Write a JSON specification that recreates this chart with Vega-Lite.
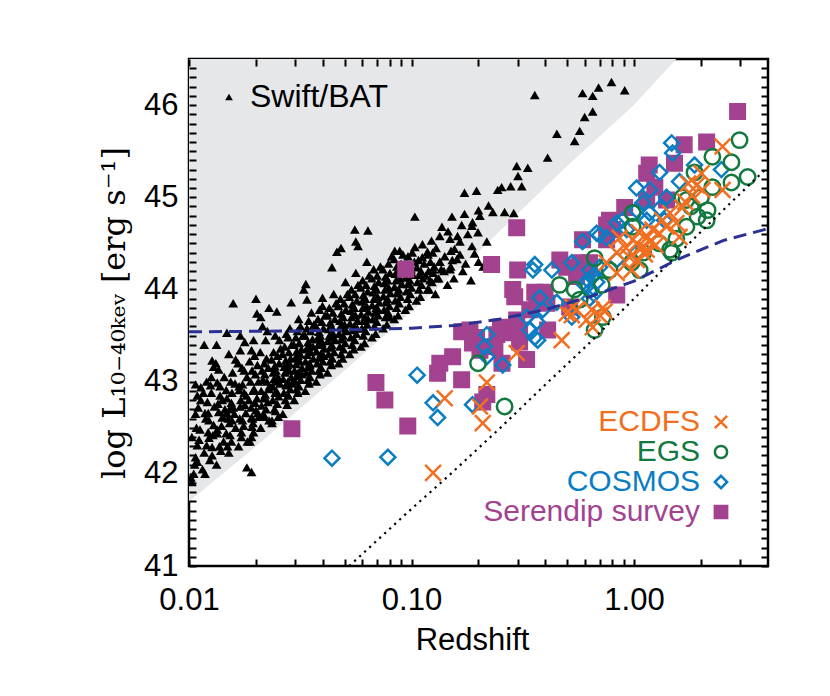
{
  "$schema": "https://vega.github.io/schema/vega-lite/v6.json",
  "width": 579,
  "height": 507,
  "autosize": {"type": "none"},
  "padding": {"left": 189, "top": 59, "right": 62, "bottom": 130},
  "background": "white",
  "config": {
    "view": {"stroke": "#000000", "strokeWidth": 2.5},
    "font": "Liberation Sans"
  },
  "datasets": {
    "bound": [
      {"z": 0.01, "L": 41.70}, {"z": 0.02, "L": 42.30}, {"z": 0.05, "L": 43.12}, {"z": 0.1, "L": 43.76},
      {"z": 0.2, "L": 44.41}, {"z": 0.5, "L": 45.34}, {"z": 1.0, "L": 46.0}, {"z": 1.07, "L": 46.08}, {"z": 1.55, "L": 46.5}
    ],
    "dash": [
      {"z": 0.01, "L": 43.54}, {"z": 0.0316, "L": 43.55}, {"z": 0.1, "L": 43.58}, {"z": 0.158, "L": 43.61},
      {"z": 0.251, "L": 43.68}, {"z": 0.398, "L": 43.78}, {"z": 0.631, "L": 43.92}, {"z": 1.0, "L": 44.09},
      {"z": 1.585, "L": 44.33}, {"z": 2.512, "L": 44.53}, {"z": 4.0, "L": 44.66}
    ],
    "dot": [
      {"z": 0.0525, "L": 41.0}, {"z": 0.1, "L": 41.62}, {"z": 0.1455, "L": 41.97}, {"z": 0.251, "L": 42.5},
      {"z": 0.377, "L": 42.91}, {"z": 0.631, "L": 43.42}, {"z": 1.0, "L": 43.9}, {"z": 1.445, "L": 44.29},
      {"z": 2.254, "L": 44.75}, {"z": 4.0, "L": 45.33}
    ],
    "swift": [
      {"z":0.0103,"L":42.40},{"z":0.0109,"L":42.31},{"z":0.0117,"L":43.40},{"z":0.0133,"L":43.40},{"z":0.0148,"L":43.53},
      {"z":0.0127,"L":43.23},{"z":0.0129,"L":43.16},{"z":0.0136,"L":43.13},{"z":0.0162,"L":43.24},{"z":0.0166,"L":43.20},
      {"z":0.0170,"L":43.34},{"z":0.0191,"L":43.34},{"z":0.0178,"L":43.43},{"z":0.0107,"L":42.97},{"z":0.0113,"L":42.94},
      {"z":0.0126,"L":42.88},{"z":0.0134,"L":42.99},{"z":0.0113,"L":42.80},{"z":0.0147,"L":42.91},{"z":0.0156,"L":42.88},
      {"z":0.0168,"L":42.91},{"z":0.0177,"L":42.88},{"z":0.0141,"L":42.80},{"z":0.0155,"L":42.77},{"z":0.0170,"L":42.73},
      {"z":0.0186,"L":42.80},{"z":0.0200,"L":42.69},{"z":0.0191,"L":42.61},{"z":0.0204,"L":42.66},{"z":0.0229,"L":42.58},
      {"z":0.0236,"L":42.58},{"z":0.0123,"L":42.58},{"z":0.0129,"L":42.53},{"z":0.0141,"L":42.61},{"z":0.0148,"L":42.66},
      {"z":0.0156,"L":42.58},{"z":0.0174,"L":42.58},{"z":0.0162,"L":42.50},{"z":0.0147,"L":42.44},{"z":0.0134,"L":42.44},
      {"z":0.0123,"L":42.39},{"z":0.0120,"L":42.31},{"z":0.0127,"L":42.29},{"z":0.0117,"L":42.23},{"z":0.0127,"L":42.20},
      {"z":0.0151,"L":42.23},{"z":0.0191,"L":42.40},{"z":0.0192,"L":42.51},{"z":0.0102,"L":41.96},{"z":0.0103,"L":41.91},
      {"z":0.0105,"L":42.00},{"z":0.0109,"L":42.13},{"z":0.0107,"L":42.18},{"z":0.0182,"L":42.07},{"z":0.0191,"L":42.02},
      {"z":0.0111,"L":42.37},
      {"z":0.0556,"L":44.65},{"z":0.0637,"L":44.64},{"z":0.0562,"L":44.52},{"z":0.0575,"L":44.47},{"z":0.0482,"L":44.45},
      {"z":0.0462,"L":44.41},{"z":0.0439,"L":44.24},{"z":0.0335,"L":44.06},{"z":0.0328,"L":44.00},{"z":0.0398,"L":43.91},
      {"z":0.0339,"L":43.89},{"z":0.0200,"L":43.90},{"z":0.0158,"L":43.85},{"z":0.0229,"L":43.80},{"z":0.0248,"L":43.76},
      {"z":0.0202,"L":43.74},{"z":0.0210,"L":43.70},{"z":0.0288,"L":43.86},
      {"z":0.358,"L":46.11},{"z":0.587,"L":46.13},{"z":0.652,"L":46.10},{"z":0.693,"L":46.19},{"z":0.792,"L":46.25},
      {"z":0.908,"L":46.16},{"z":0.652,"L":45.93},{"z":0.600,"L":45.87},{"z":0.570,"L":45.72},{"z":0.541,"L":45.61},
      {"z":0.450,"L":45.69},{"z":0.409,"L":45.43},{"z":0.297,"L":45.34},{"z":0.333,"L":45.32},{"z":0.301,"L":45.23},
      {"z":0.279,"L":45.12},{"z":0.313,"L":45.12},{"z":0.244,"L":45.08},{"z":0.254,"L":45.11},{"z":0.173,"L":45.05},
      {"z":0.196,"L":45.07},{"z":0.222,"L":44.91},{"z":0.232,"L":44.84},{"z":0.262,"L":44.84},{"z":0.288,"L":44.83},
      {"z":0.200,"L":44.86},{"z":0.203,"L":44.80},{"z":0.173,"L":44.82},{"z":0.188,"L":44.73},{"z":0.187,"L":44.69},
      {"z":0.152,"L":44.79},{"z":0.168,"L":44.70},{"z":0.1035,"L":44.79},{"z":0.137,"L":44.68},{"z":0.146,"L":44.63},
      {"z":0.161,"L":44.58},{"z":0.179,"L":44.60},{"z":0.199,"L":44.62},{"z":0.218,"L":44.52},{"z":0.187,"L":44.47},
      {"z":0.165,"L":44.52},{"z":0.149,"L":44.55},{"z":0.134,"L":44.58},{"z":0.123,"L":44.53},{"z":0.112,"L":44.49},
      {"z":0.1035,"L":44.46},{"z":0.0841,"L":44.42},{"z":0.0885,"L":44.42},{"z":0.156,"L":44.44},{"z":0.192,"L":44.39},
      {"z":0.118,"L":44.41},{"z":0.141,"L":44.36},
      {"z":0.134,"L":44.30},{"z":0.140,"L":44.20},{"z":0.150,"L":44.25},{"z":0.160,"L":44.33},{"z":0.170,"L":44.20},
      {"z":0.175,"L":44.28},{"z":0.185,"L":44.10},{"z":0.130,"L":44.12},{"z":0.125,"L":44.22},{"z":0.145,"L":44.05},
      {"z":0.155,"L":44.12},{"z":0.120,"L":44.00},{"z":0.116,"L":44.15},{"z":0.200,"L":44.30},{"z":0.210,"L":44.25},
      {"z":0.165,"L":44.38},{"z":0.128,"L":43.95},
      {"z":0.0115,"L":42.05},{"z":0.0112,"L":42.48},{"z":0.0118,"L":42.66},{"z":0.0110,"L":42.72},{"z":0.0116,"L":42.88},
      {"z":0.0124,"L":42.15},{"z":0.0128,"L":42.42},{"z":0.0122,"L":42.66},{"z":0.0130,"L":42.73},{"z":0.0126,"L":43.05},{"z":0.0125,"L":42.96},
      {"z":0.0139,"L":42.25},{"z":0.0143,"L":42.35},{"z":0.0140,"L":42.52},{"z":0.0145,"L":42.70},{"z":0.0138,"L":42.85},{"z":0.0144,"L":43.05},{"z":0.0142,"L":42.62},
      {"z":0.0155,"L":42.35},{"z":0.0160,"L":42.65},{"z":0.0158,"L":42.72},{"z":0.0161,"L":42.98},{"z":0.0157,"L":43.10},{"z":0.0152,"L":42.55},
      {"z":0.0172,"L":42.45},{"z":0.0176,"L":42.52},{"z":0.0180,"L":42.66},{"z":0.0178,"L":42.75},{"z":0.0174,"L":42.97},{"z":0.0182,"L":43.05},{"z":0.0177,"L":43.12},{"z":0.0181,"L":42.85},{"z":0.0183,"L":42.35},
      {"z":0.0194,"L":42.55},{"z":0.0198,"L":42.77},{"z":0.0202,"L":42.82},{"z":0.0196,"L":42.92},{"z":0.0205,"L":43.00},{"z":0.0199,"L":43.08},{"z":0.0203,"L":43.18},{"z":0.0197,"L":43.28},{"z":0.0206,"L":42.62},{"z":0.0195,"L":42.45},
      {"z":0.0218,"L":42.62},{"z":0.0222,"L":42.70},{"z":0.0226,"L":42.78},{"z":0.0220,"L":42.86},{"z":0.0229,"L":42.92},{"z":0.0224,"L":43.00},{"z":0.0219,"L":43.08},{"z":0.0227,"L":43.15},{"z":0.0223,"L":43.25},{"z":0.0221,"L":43.45},{"z":0.0230,"L":42.95},{"z":0.0225,"L":43.55},
      {"z":0.0245,"L":42.68},{"z":0.0249,"L":42.76},{"z":0.0253,"L":42.84},{"z":0.0247,"L":42.90},{"z":0.0256,"L":42.98},{"z":0.0251,"L":43.05},{"z":0.0246,"L":43.12},{"z":0.0254,"L":43.20},{"z":0.0250,"L":43.28},{"z":0.0258,"L":43.36},{"z":0.0248,"L":43.00},{"z":0.0255,"L":43.45},{"z":0.0252,"L":42.62},
      {"z":0.0276,"L":42.75},{"z":0.0280,"L":42.85},{"z":0.0285,"L":42.92},{"z":0.0278,"L":43.00},{"z":0.0288,"L":43.05},{"z":0.0282,"L":43.12},{"z":0.0277,"L":43.18},{"z":0.0286,"L":43.25},{"z":0.0281,"L":43.32},{"z":0.0289,"L":43.40},{"z":0.0279,"L":43.48},{"z":0.0284,"L":43.58},{"z":0.0290,"L":42.98},{"z":0.0283,"L":43.20},
      {"z":0.0308,"L":42.88},{"z":0.0312,"L":42.95},{"z":0.0318,"L":43.02},{"z":0.0310,"L":43.10},{"z":0.0322,"L":43.15},{"z":0.0315,"L":43.22},{"z":0.0309,"L":43.28},{"z":0.0320,"L":43.35},{"z":0.0313,"L":43.42},{"z":0.0325,"L":43.50},{"z":0.0317,"L":43.60},{"z":0.0311,"L":43.68},{"z":0.0323,"L":43.08},{"z":0.0316,"L":43.30},
      {"z":0.0346,"L":42.98},{"z":0.0350,"L":43.05},{"z":0.0356,"L":43.12},{"z":0.0348,"L":43.20},{"z":0.0362,"L":43.25},{"z":0.0353,"L":43.32},{"z":0.0347,"L":43.40},{"z":0.0359,"L":43.46},{"z":0.0352,"L":43.55},{"z":0.0364,"L":43.62},{"z":0.0355,"L":43.75},{"z":0.0349,"L":43.18},{"z":0.0361,"L":43.38},
      {"z":0.0388,"L":43.08},{"z":0.0393,"L":43.15},{"z":0.0400,"L":43.22},{"z":0.0391,"L":43.30},{"z":0.0405,"L":43.36},{"z":0.0396,"L":43.42},{"z":0.0389,"L":43.50},{"z":0.0402,"L":43.58},{"z":0.0395,"L":43.65},{"z":0.0409,"L":43.72},{"z":0.0398,"L":43.82},{"z":0.0403,"L":43.28},{"z":0.0392,"L":43.45},
      {"z":0.0436,"L":43.18},{"z":0.0441,"L":43.25},{"z":0.0449,"L":43.32},{"z":0.0438,"L":43.40},{"z":0.0455,"L":43.45},{"z":0.0445,"L":43.52},{"z":0.0437,"L":43.60},{"z":0.0452,"L":43.68},{"z":0.0443,"L":43.75},{"z":0.0458,"L":43.85},{"z":0.0447,"L":43.95},{"z":0.0440,"L":43.48},
      {"z":0.0490,"L":43.25},{"z":0.0495,"L":43.35},{"z":0.0503,"L":43.42},{"z":0.0492,"L":43.50},{"z":0.0510,"L":43.55},{"z":0.0500,"L":43.62},{"z":0.0493,"L":43.70},{"z":0.0507,"L":43.78},{"z":0.0498,"L":43.85},{"z":0.0515,"L":43.95},{"z":0.0505,"L":44.08},{"z":0.0496,"L":43.58},
      {"z":0.0550,"L":43.35},{"z":0.0556,"L":43.45},{"z":0.0565,"L":43.52},{"z":0.0552,"L":43.60},{"z":0.0572,"L":43.66},{"z":0.0560,"L":43.72},{"z":0.0553,"L":43.80},{"z":0.0568,"L":43.88},{"z":0.0558,"L":43.95},{"z":0.0575,"L":44.05},{"z":0.0562,"L":44.18},{"z":0.0570,"L":43.58},
      {"z":0.0615,"L":43.42},{"z":0.0622,"L":43.55},{"z":0.0632,"L":43.62},{"z":0.0618,"L":43.70},{"z":0.0640,"L":43.76},{"z":0.0628,"L":43.82},{"z":0.0620,"L":43.90},{"z":0.0636,"L":43.98},{"z":0.0625,"L":44.05},{"z":0.0645,"L":44.15},{"z":0.0630,"L":44.30},{"z":0.0638,"L":43.68},
      {"z":0.0690,"L":43.52},{"z":0.0698,"L":43.65},{"z":0.0708,"L":43.72},{"z":0.0694,"L":43.80},{"z":0.0718,"L":43.86},{"z":0.0704,"L":43.92},{"z":0.0696,"L":44.00},{"z":0.0712,"L":44.08},{"z":0.0701,"L":44.15},{"z":0.0725,"L":44.25},{"z":0.0709,"L":43.78},
      {"z":0.0775,"L":43.62},{"z":0.0785,"L":43.75},{"z":0.0795,"L":43.82},{"z":0.0780,"L":43.90},{"z":0.0805,"L":43.96},{"z":0.0790,"L":44.02},{"z":0.0782,"L":44.10},{"z":0.0800,"L":44.18},{"z":0.0788,"L":44.28},{"z":0.0815,"L":44.36},{"z":0.0798,"L":43.70},
      {"z":0.0870,"L":43.72},{"z":0.0880,"L":43.85},{"z":0.0892,"L":43.92},{"z":0.0875,"L":44.00},{"z":0.0905,"L":44.06},{"z":0.0888,"L":44.12},{"z":0.0878,"L":44.20},{"z":0.0898,"L":44.28},{"z":0.0915,"L":44.38},
      {"z":0.0975,"L":43.82},{"z":0.0988,"L":43.95},{"z":0.1000,"L":44.02},{"z":0.0982,"L":44.10},{"z":0.1015,"L":44.16},{"z":0.0995,"L":44.22},{"z":0.1030,"L":44.30},{"z":0.1008,"L":44.40},
      {"z":0.1095,"L":43.92},{"z":0.1110,"L":44.05},{"z":0.1125,"L":44.12},{"z":0.1102,"L":44.20},{"z":0.1140,"L":44.28},{"z":0.1118,"L":44.35},
      {"z":0.1235,"L":44.08},{"z":0.1250,"L":44.18},{"z":0.1265,"L":44.25},{"z":0.1245,"L":44.40},{"z":0.1290,"L":44.45},
      {"z":0.0106,"L":42.10},{"z":0.0108,"L":42.50},{"z":0.0107,"L":42.65},{"z":0.0109,"L":42.85},
      {"z":0.0118,"L":42.00},{"z":0.0122,"L":42.45},{"z":0.0119,"L":42.60},{"z":0.0121,"L":42.78},{"z":0.0120,"L":43.00},
      {"z":0.0133,"L":42.10},{"z":0.0137,"L":42.30},{"z":0.0134,"L":42.48},{"z":0.0136,"L":42.67},{"z":0.0135,"L":42.76},{"z":0.0138,"L":42.95},{"z":0.0132,"L":43.20},
      {"z":0.0149,"L":42.30},{"z":0.0153,"L":42.42},{"z":0.0150,"L":42.60},{"z":0.0152,"L":42.70},{"z":0.0148,"L":42.82},{"z":0.0154,"L":43.00},{"z":0.0151,"L":43.30},
      {"z":0.0167,"L":42.30},{"z":0.0172,"L":42.40},{"z":0.0169,"L":42.60},{"z":0.0171,"L":42.80},{"z":0.0168,"L":42.95},{"z":0.0173,"L":43.15},{"z":0.0170,"L":43.50},
      {"z":0.0188,"L":42.35},{"z":0.0193,"L":42.60},{"z":0.0190,"L":42.72},{"z":0.0194,"L":42.90},{"z":0.0189,"L":43.00},{"z":0.0192,"L":43.12},{"z":0.0187,"L":43.22},{"z":0.0195,"L":43.45},
      {"z":0.0210,"L":42.50},{"z":0.0216,"L":42.65},{"z":0.0212,"L":42.74},{"z":0.0217,"L":42.82},{"z":0.0211,"L":42.90},{"z":0.0215,"L":43.02},{"z":0.0213,"L":43.12},{"z":0.0218,"L":43.20},{"z":0.0209,"L":43.32},{"z":0.0214,"L":43.60},
      {"z":0.0236,"L":42.55},{"z":0.0242,"L":42.70},{"z":0.0238,"L":42.80},{"z":0.0244,"L":42.88},{"z":0.0237,"L":42.95},{"z":0.0241,"L":43.03},{"z":0.0239,"L":43.10},{"z":0.0243,"L":43.17},{"z":0.0235,"L":43.24},{"z":0.0240,"L":43.32},{"z":0.0244,"L":43.50},
      {"z":0.0264,"L":42.65},{"z":0.0271,"L":42.80},{"z":0.0267,"L":42.88},{"z":0.0273,"L":42.96},{"z":0.0265,"L":43.03},{"z":0.0270,"L":43.10},{"z":0.0268,"L":43.16},{"z":0.0272,"L":43.23},{"z":0.0263,"L":43.30},{"z":0.0269,"L":43.38},{"z":0.0274,"L":43.52},
      {"z":0.0297,"L":42.80},{"z":0.0304,"L":42.92},{"z":0.0300,"L":43.00},{"z":0.0306,"L":43.06},{"z":0.0298,"L":43.12},{"z":0.0303,"L":43.19},{"z":0.0301,"L":43.26},{"z":0.0305,"L":43.33},{"z":0.0296,"L":43.40},{"z":0.0302,"L":43.48},{"z":0.0307,"L":43.55},
      {"z":0.0333,"L":42.90},{"z":0.0342,"L":43.02},{"z":0.0337,"L":43.10},{"z":0.0344,"L":43.16},{"z":0.0334,"L":43.22},{"z":0.0340,"L":43.29},{"z":0.0338,"L":43.36},{"z":0.0343,"L":43.43},{"z":0.0332,"L":43.50},{"z":0.0339,"L":43.58},{"z":0.0345,"L":43.66},
      {"z":0.0373,"L":43.00},{"z":0.0383,"L":43.12},{"z":0.0377,"L":43.20},{"z":0.0385,"L":43.26},{"z":0.0374,"L":43.33},{"z":0.0381,"L":43.40},{"z":0.0378,"L":43.47},{"z":0.0384,"L":43.54},{"z":0.0372,"L":43.60},{"z":0.0380,"L":43.68},{"z":0.0386,"L":43.78},
      {"z":0.0419,"L":43.10},{"z":0.0430,"L":43.22},{"z":0.0424,"L":43.30},{"z":0.0432,"L":43.37},{"z":0.0420,"L":43.44},{"z":0.0428,"L":43.50},{"z":0.0425,"L":43.57},{"z":0.0431,"L":43.64},{"z":0.0418,"L":43.72},{"z":0.0427,"L":43.80},
      {"z":0.0470,"L":43.20},{"z":0.0483,"L":43.30},{"z":0.0476,"L":43.38},{"z":0.0485,"L":43.46},{"z":0.0472,"L":43.52},{"z":0.0480,"L":43.60},{"z":0.0477,"L":43.66},{"z":0.0484,"L":43.74},{"z":0.0469,"L":43.82},{"z":0.0479,"L":43.90},
      {"z":0.0527,"L":43.30},{"z":0.0541,"L":43.40},{"z":0.0533,"L":43.48},{"z":0.0544,"L":43.56},{"z":0.0529,"L":43.63},{"z":0.0538,"L":43.70},{"z":0.0535,"L":43.77},{"z":0.0542,"L":43.84},{"z":0.0526,"L":43.92},{"z":0.0537,"L":44.00},
      {"z":0.0592,"L":43.38},{"z":0.0607,"L":43.50},{"z":0.0598,"L":43.58},{"z":0.0610,"L":43.66},{"z":0.0594,"L":43.73},{"z":0.0604,"L":43.80},{"z":0.0600,"L":43.87},{"z":0.0608,"L":43.94},{"z":0.0591,"L":44.02},{"z":0.0603,"L":44.10},
      {"z":0.0664,"L":43.48},{"z":0.0681,"L":43.60},{"z":0.0671,"L":43.68},{"z":0.0684,"L":43.75},{"z":0.0666,"L":43.83},{"z":0.0678,"L":43.90},{"z":0.0673,"L":43.97},{"z":0.0682,"L":44.04},{"z":0.0663,"L":44.12},{"z":0.0676,"L":44.22},
      {"z":0.0745,"L":43.58},{"z":0.0764,"L":43.70},{"z":0.0753,"L":43.78},{"z":0.0767,"L":43.86},{"z":0.0748,"L":43.93},{"z":0.0761,"L":44.00},{"z":0.0755,"L":44.07},{"z":0.0765,"L":44.14},{"z":0.0744,"L":44.22},
      {"z":0.0836,"L":43.68},{"z":0.0857,"L":43.80},{"z":0.0845,"L":43.88},{"z":0.0861,"L":43.96},{"z":0.0839,"L":44.03},{"z":0.0853,"L":44.10},{"z":0.0847,"L":44.17},{"z":0.0859,"L":44.25},{"z":0.0835,"L":44.33},
      {"z":0.0938,"L":43.78},{"z":0.0962,"L":43.90},{"z":0.0948,"L":43.98},{"z":0.0966,"L":44.06},{"z":0.0941,"L":44.13},{"z":0.0957,"L":44.20},{"z":0.0950,"L":44.28},{"z":0.0964,"L":44.36},
      {"z":0.1052,"L":43.88},{"z":0.1080,"L":44.00},{"z":0.1063,"L":44.08},{"z":0.1084,"L":44.16},{"z":0.1056,"L":44.24},{"z":0.1074,"L":44.32},
      {"z":0.1180,"L":44.00},{"z":0.1212,"L":44.10},{"z":0.1193,"L":44.20},{"z":0.1216,"L":44.30},{"z":0.1186,"L":44.38},
      {"z":0.1325,"L":44.12},{"z":0.1360,"L":44.22},{"z":0.1340,"L":44.30},
      {"z":0.1490,"L":44.22},{"z":0.1525,"L":44.32},{"z":0.1505,"L":44.42}
    ],
    "srv": [
      {"s":"Serendip survey","z":0.297,"L":44.67},{"s":"Serendip survey","z":0.229,"L":44.27},{"s":"Serendip survey","z":0.300,"L":44.21},
      {"s":"Serendip survey","z":0.285,"L":44.00},{"s":"Serendip survey","z":0.291,"L":43.92},{"s":"Serendip survey","z":0.358,"L":43.97},
      {"s":"Serendip survey","z":0.398,"L":43.97},{"s":"Serendip survey","z":0.366,"L":43.86},{"s":"Serendip survey","z":0.406,"L":43.85},
      {"s":"Serendip survey","z":0.340,"L":43.78},{"s":"Serendip survey","z":0.464,"L":44.32},{"s":"Serendip survey","z":0.498,"L":44.24},
      {"s":"Serendip survey","z":0.570,"L":44.29},{"s":"Serendip survey","z":0.612,"L":44.21},{"s":"Serendip survey","z":0.753,"L":44.70},
      {"s":"Serendip survey","z":0.802,"L":44.65},{"s":"Serendip survey","z":0.836,"L":43.94},{"s":"Serendip survey","z":0.514,"L":43.81},
      {"s":"Serendip survey","z":0.297,"L":43.67},{"s":"Serendip survey","z":0.306,"L":43.56},{"s":"Serendip survey","z":0.285,"L":43.53},
      {"s":"Serendip survey","z":0.251,"L":43.59},{"s":"Serendip survey","z":0.242,"L":43.51},{"s":"Serendip survey","z":0.306,"L":43.43},
      {"s":"Serendip survey","z":0.409,"L":43.56},{"s":"Serendip survey","z":0.168,"L":43.54},{"s":"Serendip survey","z":0.183,"L":43.56},
      {"s":"Serendip survey","z":0.196,"L":43.48},{"s":"Serendip survey","z":0.188,"L":43.42},{"s":"Serendip survey","z":0.237,"L":43.38},
      {"s":"Serendip survey","z":0.203,"L":43.34},{"s":"Serendip survey","z":0.153,"L":43.27},{"s":"Serendip survey","z":0.134,"L":43.20},
      {"s":"Serendip survey","z":0.131,"L":43.09},{"s":"Serendip survey","z":0.168,"L":43.02},{"s":"Serendip survey","z":0.255,"L":43.20},
      {"s":"Serendip survey","z":0.329,"L":43.24},{"s":"Serendip survey","z":0.218,"L":42.86},{"s":"Serendip survey","z":0.209,"L":42.78},
      {"s":"Serendip survey","z":0.753,"L":44.54},{"s":"Serendip survey","z":0.0942,"L":44.22},{"s":"Serendip survey","z":0.0290,"L":42.49},
      {"s":"Serendip survey","z":0.0692,"L":42.99},{"s":"Serendip survey","z":0.0759,"L":42.80},{"s":"Serendip survey","z":0.0962,"L":42.52},
      {"s":"Serendip survey","z":2.12,"L":45.60},{"s":"Serendip survey","z":1.68,"L":45.57},{"s":"Serendip survey","z":1.52,"L":45.37},
      {"s":"Serendip survey","z":1.17,"L":45.35},{"s":"Serendip survey","z":1.14,"L":45.26},{"s":"Serendip survey","z":1.24,"L":45.11},
      {"s":"Serendip survey","z":1.40,"L":44.97},{"s":"Serendip survey","z":1.14,"L":44.97},{"s":"Serendip survey","z":0.908,"L":44.89},
      {"s":"Serendip survey","z":0.776,"L":44.75},{"s":"Serendip survey","z":0.587,"L":44.54},{"s":"Serendip survey","z":0.631,"L":44.29},
      {"s":"Serendip survey","z":0.552,"L":44.14},{"s":"Serendip survey","z":2.92,"L":45.93},
      {"s":"COSMOS","z":0.358,"L":44.27},{"s":"COSMOS","z":0.351,"L":44.21},{"s":"COSMOS","z":0.427,"L":44.21},{"s":"COSMOS","z":0.525,"L":44.29},
      {"s":"COSMOS","z":0.587,"L":44.52},{"s":"COSMOS","z":0.679,"L":44.61},{"s":"COSMOS","z":0.753,"L":44.56},{"s":"COSMOS","z":0.927,"L":44.65},
      {"s":"COSMOS","z":0.377,"L":43.91},{"s":"COSMOS","z":0.450,"L":43.86},{"s":"COSMOS","z":0.389,"L":43.78},{"s":"COSMOS","z":0.330,"L":43.70},
      {"s":"COSMOS","z":0.366,"L":43.65},{"s":"COSMOS","z":0.340,"L":43.56},{"s":"COSMOS","z":0.358,"L":43.48},{"s":"COSMOS","z":0.369,"L":43.45},
      {"s":"COSMOS","z":0.218,"L":43.51},{"s":"COSMOS","z":0.213,"L":43.38},{"s":"COSMOS","z":0.218,"L":43.27},{"s":"COSMOS","z":0.257,"L":43.18},
      {"s":"COSMOS","z":0.188,"L":42.75},{"s":"COSMOS","z":0.125,"L":42.77},{"s":"COSMOS","z":0.106,"L":43.07},{"s":"COSMOS","z":0.631,"L":44.21},
      {"s":"COSMOS","z":0.652,"L":44.14},{"s":"COSMOS","z":0.700,"L":44.24},{"s":"COSMOS","z":0.525,"L":43.70},{"s":"COSMOS","z":0.0439,"L":42.17},
      {"s":"COSMOS","z":0.0783,"L":42.18},{"s":"COSMOS","z":0.131,"L":42.61},{"s":"COSMOS","z":1.476,"L":45.59},{"s":"COSMOS","z":1.49,"L":45.48},
      {"s":"COSMOS","z":1.303,"L":45.27},{"s":"COSMOS","z":1.026,"L":45.10},{"s":"COSMOS","z":1.175,"L":45.08},{"s":"COSMOS","z":1.60,"L":45.17},
      {"s":"COSMOS","z":1.87,"L":45.35},{"s":"COSMOS","z":2.47,"L":45.30},{"s":"COSMOS","z":1.40,"L":45.00},{"s":"COSMOS","z":1.096,"L":44.94},
      {"s":"COSMOS","z":1.026,"L":44.86},{"s":"COSMOS","z":0.889,"L":44.75},{"s":"COSMOS","z":0.700,"L":44.59},{"s":"COSMOS","z":1.175,"L":44.83},
      {"s":"COSMOS","z":1.303,"L":44.88},{"s":"COSMOS","z":1.14,"L":44.75},{"s":"COSMOS","z":1.37,"L":44.75},{"s":"COSMOS","z":0.836,"L":44.72},
      {"s":"COSMOS","z":0.665,"L":44.16},{"s":"COSMOS","z":0.836,"L":44.32},{"s":"COSMOS","z":1.026,"L":44.40},{"s":"COSMOS","z":0.62,"L":44.10},
      {"s":"COSMOS","z":0.64,"L":44.00},{"s":"COSMOS","z":0.66,"L":43.95},{"s":"COSMOS","z":0.60,"L":44.05},{"s":"COSMOS","z":0.68,"L":44.08},
      {"s":"COSMOS","z":0.63,"L":43.90},
      {"s":"EGS","z":0.199,"L":43.20},{"s":"EGS","z":0.262,"L":42.73},{"s":"EGS","z":0.463,"L":44.05},{"s":"EGS","z":0.541,"L":44.00},
      {"s":"EGS","z":0.665,"L":44.34},{"s":"EGS","z":0.716,"L":44.05},{"s":"EGS","z":0.776,"L":44.21},{"s":"EGS","z":0.665,"L":43.56},
      {"s":"EGS","z":0.724,"L":43.70},{"s":"EGS","z":0.986,"L":44.68},{"s":"EGS","z":2.98,"L":45.62},{"s":"EGS","z":2.74,"L":45.38},
      {"s":"EGS","z":2.25,"L":45.44},{"s":"EGS","z":1.87,"L":45.27},{"s":"EGS","z":3.24,"L":45.22},{"s":"EGS","z":2.74,"L":45.16},
      {"s":"EGS","z":2.25,"L":45.11},{"s":"EGS","z":1.72,"L":44.97},{"s":"EGS","z":2.14,"L":44.86},{"s":"EGS","z":2.12,"L":44.75},
      {"s":"EGS","z":1.93,"L":44.79},{"s":"EGS","z":1.65,"L":45.00},{"s":"EGS","z":0.986,"L":44.83},{"s":"EGS","z":1.45,"L":44.43},
      {"s":"EGS","z":1.48,"L":44.40},{"s":"EGS","z":0.975,"L":44.29},{"s":"EGS","z":1.06,"L":44.21},{"s":"EGS","z":0.57,"L":43.89},
      {"s":"EGS","z":1.72,"L":44.68},{"s":"EGS","z":1.30,"L":44.50},{"s":"EGS","z":1.55,"L":44.55},{"s":"EGS","z":1.10,"L":44.40},
      {"s":"EGS","z":1.80,"L":44.90},{"s":"EGS","z":2.00,"L":45.00},
      {"s":"ECDFS","z":0.297,"L":43.31},{"s":"ECDFS","z":0.473,"L":43.45},{"s":"ECDFS","z":0.218,"L":42.99},{"s":"ECDFS","z":0.141,"L":42.82},
      {"s":"ECDFS","z":0.203,"L":42.73},{"s":"ECDFS","z":0.525,"L":43.72},{"s":"ECDFS","z":0.612,"L":43.67},{"s":"ECDFS","z":0.646,"L":43.78},
      {"s":"ECDFS","z":0.700,"L":43.72},{"s":"ECDFS","z":0.738,"L":43.76},{"s":"ECDFS","z":0.652,"L":43.59},{"s":"ECDFS","z":0.753,"L":44.29},
      {"s":"ECDFS","z":0.836,"L":44.18},{"s":"ECDFS","z":0.861,"L":44.56},{"s":"ECDFS","z":0.955,"L":44.35},{"s":"ECDFS","z":0.986,"L":44.54},
      {"s":"ECDFS","z":0.975,"L":44.21},{"s":"ECDFS","z":0.552,"L":43.78},{"s":"ECDFS","z":0.125,"L":42.01},{"s":"ECDFS","z":0.209,"L":42.55},
      {"s":"ECDFS","z":2.50,"L":45.55},{"s":"ECDFS","z":2.01,"L":45.26},{"s":"ECDFS","z":1.91,"L":45.13},{"s":"ECDFS","z":2.50,"L":45.08},
      {"s":"ECDFS","z":2.03,"L":45.08},{"s":"ECDFS","z":1.82,"L":45.02},{"s":"ECDFS","z":1.65,"L":44.89},{"s":"ECDFS","z":1.45,"L":44.83},
      {"s":"ECDFS","z":1.34,"L":44.75},{"s":"ECDFS","z":1.55,"L":44.72},{"s":"ECDFS","z":1.21,"L":44.65},{"s":"ECDFS","z":1.15,"L":44.57},
      {"s":"ECDFS","z":1.30,"L":44.61},{"s":"ECDFS","z":1.60,"L":44.57},{"s":"ECDFS","z":1.03,"L":44.50},{"s":"ECDFS","z":0.836,"L":44.40},
      {"s":"ECDFS","z":1.03,"L":44.32},{"s":"ECDFS","z":1.14,"L":44.43},{"s":"ECDFS","z":0.498,"L":43.74},{"s":"ECDFS","z":0.53,"L":43.81},
      {"s":"ECDFS","z":0.724,"L":43.80},{"s":"ECDFS","z":1.08,"L":44.45},{"s":"ECDFS","z":1.12,"L":44.38},{"s":"ECDFS","z":1.18,"L":44.52},
      {"s":"ECDFS","z":1.25,"L":44.48},{"s":"ECDFS","z":1.05,"L":44.62},{"s":"ECDFS","z":0.92,"L":44.45},{"s":"ECDFS","z":1.40,"L":44.68},
      {"s":"ECDFS","z":1.70,"L":44.95},{"s":"ECDFS","z":1.75,"L":45.15}
    ]
  },
  "layer": [
    {
      "data": {"name": "bound"},
      "mark": {"type": "area", "color": "#e6e7e8", "opacity": 1, "clip": true},
      "encoding": {
        "x": {"field": "z", "type": "quantitative", "scale": {"type": "log", "domain": [0.01, 4], "nice": false},
          "axis": {"orient": "bottom", "zindex": 5, "tickCount": 200,
            "values": [0.01, 0.02, 0.03, 0.04, 0.05, 0.06, 0.07, 0.08, 0.09, 0.1, 0.2, 0.3, 0.4, 0.5, 0.6, 0.7, 0.8, 0.9, 1, 2, 3],
            "ticks": false, "tickSize": 0, "domain": false,
            "grid": true, "gridColor": "#000000", "gridWidth": 2, "gridOpacity": 1, "gridDash": [7, 493, 7, 1000],
            "labelExpr": "datum.value == 0.01 ? '0.01' : datum.value == 0.1 ? '0.10' : datum.value == 1 ? '1.00' : ''",
            "labelFlush": false, "labelOverlap": false, "labelFontSize": 31, "labelColor": "#000000", "labelPadding": 19,
            "title": "Redshift", "titleFontSize": 31, "titleFontWeight": "normal", "titleColor": "#000000", "titlePadding": 10, "titleX": 283}},
        "y": {"field": "L", "type": "quantitative", "scale": {"domain": [41, 46.5], "nice": false, "zero": false},
          "axis": {"orient": "left", "zindex": 5, "tickCount": 200,
            "values": [41,41.1,41.2,41.3,41.4,41.5,41.6,41.7,41.8,41.9,42,42.1,42.2,42.3,42.4,42.5,42.6,42.7,42.8,42.9,43,43.1,43.2,43.3,43.4,43.5,43.6,43.7,43.8,43.9,44,44.1,44.2,44.3,44.4,44.5,44.6,44.7,44.8,44.9,45,45.1,45.2,45.3,45.4,45.5,45.6,45.7,45.8,45.9,46,46.1,46.2,46.3,46.4],
            "ticks": false, "tickSize": 0, "domain": false,
            "grid": true, "gridColor": "#000000", "gridWidth": 2, "gridOpacity": 1, "gridDash": [7, 565, 7, 1000],
            "labelExpr": "datum.value % 1 == 0 ? format(datum.value, 'd') : ''",
            "labelFlush": false, "labelOverlap": false, "labelFontSize": 31, "labelColor": "#000000", "labelPadding": 11,
            "title": "log L₁₀₋₄₀ₖₑᵥ [erg s⁻¹]", "titleFont": "DejaVu Serif", "titleFontSize": 32, "titleFontWeight": "normal", "titleColor": "#000000", "titlePadding": 12}},
        "y2": {"datum": 46.5}
      }
    },
    {
      "data": {"name": "swift"},
      "mark": {"type": "point", "filled": true, "color": "black", "size": 95, "opacity": 1, "strokeWidth": 0, "clip": true},
      "encoding": {
        "x": {"field": "z", "type": "quantitative", "scale": {"type": "log", "domain": [0.01, 4], "nice": false}},
        "y": {"field": "L", "type": "quantitative", "scale": {"domain": [41, 46.5], "nice": false, "zero": false}},
        "shape": {"datum": "Swift/BAT", "type": "nominal", "scale": {"domain": ["Swift/BAT"], "range": ["triangle-up"]},
          "legend": {"orient": "none", "legendX": 24, "legendY": 22, "title": null, "symbolSize": 60, "symbolFillColor": "black",
            "symbolStrokeWidth": 0, "labelFontSize": 32, "labelColor": "black", "labelOffset": 5}}
      }
    },
    {
      "data": {"name": "srv"},
      "mark": {"type": "point", "filled": false, "strokeWidth": 2.5, "opacity": 1, "clip": true},
      "encoding": {
        "x": {"field": "z", "type": "quantitative", "scale": {"type": "log", "domain": [0.01, 4], "nice": false}},
        "y": {"field": "L", "type": "quantitative", "scale": {"domain": [41, 46.5], "nice": false, "zero": false}},
        "shape": {"field": "s", "type": "nominal",
          "scale": {"domain": ["ECDFS", "EGS", "COSMOS", "Serendip survey"], "range": ["M-1,-1L1,1M-1,1L1,-1", "circle", "diamond", "square"]},
          "legend": {"orient": "none", "legendX": 517, "legendY": 348, "title": null, "symbolSize": 150, "symbolStrokeWidth": 2.5,
            "labelFontSize": 30, "labelAlign": "right", "labelOffset": -36, "labelLimit": 400, "rowPadding": 0,
            "encoding": {
              "labels": {"fill": {"condition": [{"test": "datum.value === 'ECDFS'", "value": "#f26f21"}, {"test": "datum.value === 'EGS'", "value": "#137a3f"}, {"test": "datum.value === 'COSMOS'", "value": "#0b7dc2"}], "value": "#a3428f"}},
              "symbols": {
                "stroke": {"condition": [{"test": "datum.value === 'ECDFS'", "value": "#f26f21"}, {"test": "datum.value === 'EGS'", "value": "#137a3f"}, {"test": "datum.value === 'COSMOS'", "value": "#0b7dc2"}], "value": "#a3428f"},
                "fill": {"condition": {"test": "datum.value === 'Serendip survey'", "value": "#a3428f"}, "value": "transparent"},
                "strokeWidth": {"value": 2.5},
                "opacity": {"value": 1}
              }
            }}},
        "stroke": {"field": "s", "type": "nominal",
          "scale": {"domain": ["ECDFS", "EGS", "COSMOS", "Serendip survey"], "range": ["#f26f21", "#137a3f", "#0b7dc2", "#a3428f"]},
          "legend": null},
        "fill": {"field": "s", "type": "nominal",
          "scale": {"domain": ["ECDFS", "EGS", "COSMOS", "Serendip survey"], "range": ["transparent", "transparent", "transparent", "#a3428f"]},
          "legend": null},
        "size": {"field": "s", "type": "nominal",
          "scale": {"domain": ["ECDFS", "EGS", "COSMOS", "Serendip survey"], "range": [250, 210, 240, 190]},
          "legend": null}
      }
    },
    {
      "data": {"name": "dot"},
      "mark": {"type": "line", "color": "black", "strokeWidth": 2.2, "strokeDash": [2.2, 4.6], "clip": true},
      "encoding": {
        "x": {"field": "z", "type": "quantitative", "scale": {"type": "log", "domain": [0.01, 4], "nice": false}},
        "y": {"field": "L", "type": "quantitative", "scale": {"domain": [41, 46.5], "nice": false, "zero": false}}
      }
    },
    {
      "data": {"name": "dash"},
      "mark": {"type": "line", "color": "#2b3192", "strokeWidth": 3, "strokeDash": [13, 7], "clip": true},
      "encoding": {
        "x": {"field": "z", "type": "quantitative", "scale": {"type": "log", "domain": [0.01, 4], "nice": false}},
        "y": {"field": "L", "type": "quantitative", "scale": {"domain": [41, 46.5], "nice": false, "zero": false}}
      }
    }
  ],
  "resolve": {
    "scale": {"shape": "independent"},
    "legend": {"shape": "independent"}
  }
}
